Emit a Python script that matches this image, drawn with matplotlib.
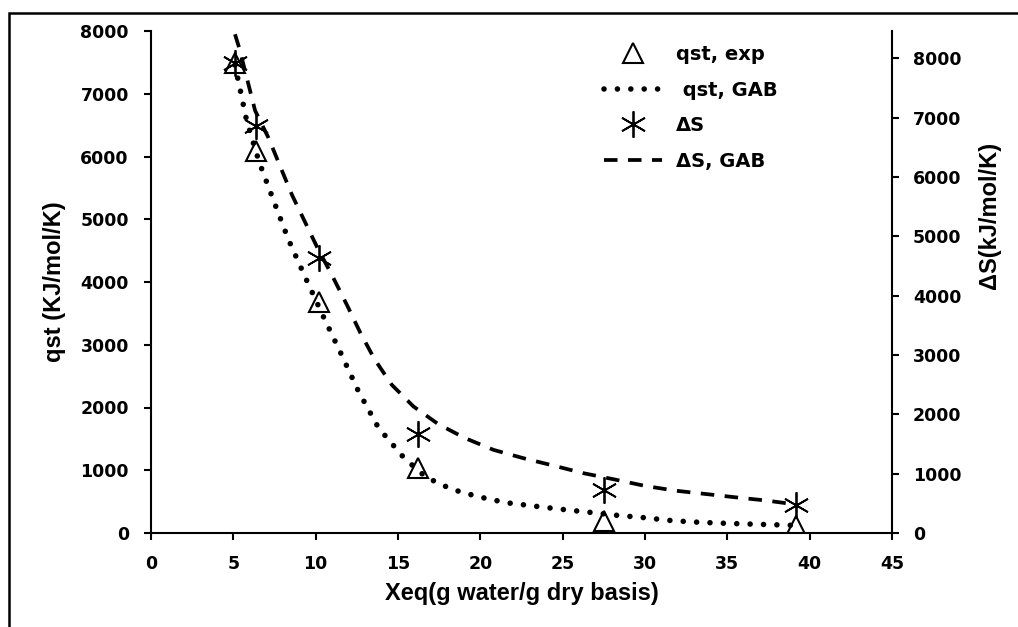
import matplotlib
matplotlib.use("Agg")
import matplotlib.pyplot as plt
from matplotlib.patches import Rectangle

# measured points (same Xeq for both series)
xeq = [5.1, 6.4, 10.2, 16.2, 27.5, 39.2]
qst_exp = [7490, 6090, 3680, 1030, 190, 110]
ds_exp = [7915, 6860, 4636, 1670, 717, 472]

# GAB model curves
qst_gab_x = [5.10, 5.81, 6.56, 7.43, 8.34, 9.36, 10.45, 11.52, 12.59, 13.81,
             15.37, 16.71, 18.27, 19.88, 21.57, 23.23, 24.91, 26.63, 28.29,
             29.97, 31.67, 33.35, 35.03, 36.70, 38.42, 39.20]
qst_gab = [7458, 6570, 5917, 5307, 4680, 4080, 3458, 2869, 2263, 1678,
           1195, 888, 696, 578, 483, 430, 378, 330, 282,
           244, 196, 170, 153, 140, 127, 120]

ds_gab_x = [5.10, 5.37, 6.32, 7.13, 7.84, 8.55, 9.36, 10.16, 10.98, 11.89,
            12.70, 13.57, 14.62, 15.94, 17.45, 19.08, 20.80, 22.62, 24.44,
            26.26, 28.09, 30.01, 31.83, 33.66, 35.48, 37.41, 38.92, 39.20]
ds_gab = [8405, 8163, 7120, 6662, 6182, 5705, 5237, 4776, 4350, 3848,
          3381, 2931, 2498, 2132, 1834, 1598, 1401, 1260, 1136,
          1008, 906, 793, 714, 658, 602, 546, 489, 475]

xticks = [0, 5, 10, 15, 20, 25, 30, 35, 40, 45]
yticks = [0, 1000, 2000, 3000, 4000, 5000, 6000, 7000, 8000]

tick_font = {"family": "DejaVu Sans", "weight": "bold", "size": 12.5}
label_font = {"family": "Liberation Sans", "weight": "bold", "size": 17}

fig = plt.figure(figsize=(10.18, 6.27), dpi=100)
ax = fig.add_axes([151 / 1018, 1 - 533 / 627, 741 / 1018, 502 / 627])
ax2 = ax.twinx()

# outer frame (only top and left edges fall inside the picture)
fig.patches.append(Rectangle((9 / 1018, -0.1), 1.2, 1.1 - 13 / 627,
                             transform=fig.transFigure, fill=False,
                             edgecolor="black", linewidth=1.8))

l_qexp, = ax.plot(xeq, qst_exp, linestyle="none", marker="^", ms=14,
                  mfc="none", mec="black", mew=1.5, label="qst, exp", zorder=3)
l_qgab, = ax.plot(qst_gab_x, qst_gab, color="black", lw=4.0,
                  linestyle=(0, (0.01, 2.4)), dash_capstyle="round",
                  label=" qst, GAB", zorder=4)
l_dexp, = ax2.plot(xeq, ds_exp, linestyle="none", marker=(6, 2, 0), ms=19,
                   mec="black", mew=1.3, label="\u0394S", zorder=3)
l_dgab, = ax2.plot(ds_gab_x, ds_gab, color="black", lw=2.7,
                   linestyle=(0, (3.6, 2.8)), label="\u0394S, GAB", zorder=4)

ax.set_xlim(0, 45)
ax.set_ylim(0, 8000)
ax2.set_ylim(0, 8460)
ax.set_xticks(xticks)
ax.set_yticks(yticks)
ax2.set_yticks(yticks)
ax.set_xticklabels([str(v) for v in xticks], fontdict=tick_font)
ax.set_yticklabels([str(v) for v in yticks], fontdict=tick_font)
ax2.set_yticklabels([str(v) for v in yticks], fontdict=tick_font)

for a in (ax, ax2):
    a.spines["top"].set_visible(False)
    for s in a.spines.values():
        s.set_linewidth(1.5)
ax.spines["right"].set_visible(False)
ax2.spines["left"].set_visible(False)
ax2.spines["bottom"].set_visible(False)
ax.tick_params(axis="x", direction="out", length=5, width=1.5, pad=11)
ax.tick_params(axis="y", direction="out", length=5, width=1.5, pad=11)
ax2.tick_params(axis="y", direction="out", length=5, width=1.5, pad=10)

ax.set_xlabel("Xeq(g water/g dry basis)", fontdict=label_font, labelpad=6)
ax.set_ylabel("qst (KJ/mol/K)", fontdict=label_font, labelpad=10)
fig.text(990 / 1018, 1 - 215 / 627, "\u0394S(kJ/mol/K)", rotation=90,
         ha="center", va="center", fontdict=label_font)

leg = ax2.legend(handles=[l_qexp, l_qgab, l_dexp, l_dgab], loc="upper left",
                 bbox_to_anchor=(604 / 1018, 1 - 45 / 627),
                 bbox_transform=fig.transFigure, frameon=False,
                 prop={"family": "DejaVu Sans", "weight": "bold", "size": 14},
                 handlelength=3.0, handletextpad=0.7, labelspacing=0.85,
                 borderpad=0, borderaxespad=0)

fig.savefig("out.png", dpi=100)
